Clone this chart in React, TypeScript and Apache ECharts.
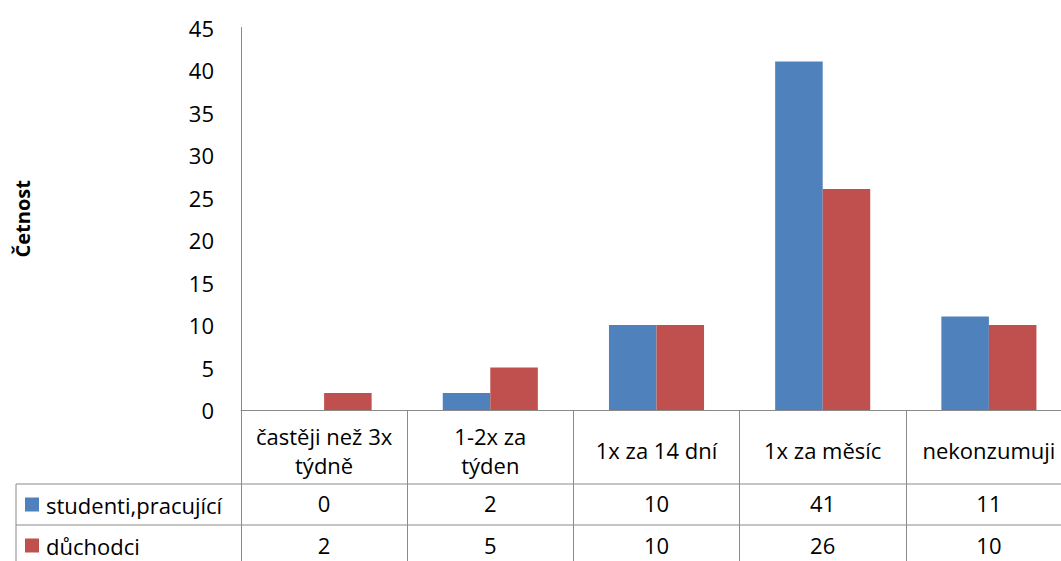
import React, { useEffect, useRef } from "react";
import * as echarts from "echarts";

const categories = ["častěji než 3x\ntýdně", "1-2x za\ntýden", "1x za 14 dní", "1x za měsíc", "nekonzumuji"];
const seriesNames = ["studenti,pracující", "důchodci"];
const studenti = [0, 2, 10, 41, 11];
const duchodci = [2, 5, 10, 26, 10];
const colors = ["#4F81BD", "#C0504D"];

const FONT = "'Open Sans', 'Noto Sans', sans-serif";
const FS = 22;
const LINE = "#8a8a8a";
// the plot runs a little past the right edge of the window
const CHART_W = 1072;
const CHART_H = 561;

export default function App() {
  const ref = useRef<HTMLDivElement>(null);
  useEffect(() => {
    if (!ref.current) return;
    const chart = echarts.init(ref.current, undefined, { renderer: "svg" });
    const gridLeft = 241;
    const gridTop = 27.5;
    const gridBottom = 151;
    const axisY = CHART_H - gridBottom;
    const row1 = 484;
    const row2 = 525;
    const valueAxis = (values: number[], margin: number) => ({
      type: "category",
      data: values.map(String),
      position: "bottom",
      gridIndex: 0,
      axisLine: { show: false },
      axisTick: { show: false },
      axisLabel: {
        interval: 0,
        margin,
        verticalAlign: "middle",
        fontFamily: FONT,
        fontSize: FS,
        color: "#000",
      },
    });
    chart.setOption({
      animation: false,
      backgroundColor: "#fff",
      textStyle: { fontFamily: FONT, fontSize: FS },
      grid: { left: gridLeft, top: gridTop, bottom: gridBottom, right: 0, outerBoundsMode: "none" },
      legend: {
        orient: "vertical",
        left: 25,
        top: 493,
        padding: 0,
        itemWidth: 14,
        itemHeight: 14,
        itemGap: 18,
        icon: "rect",
        selectedMode: false,
        textStyle: { fontFamily: FONT, fontSize: FS, color: "#000", lineHeight: 23, padding: [0, 0, 0, 2] },
        data: seriesNames,
      },
      xAxis: [
        {
          type: "category",
          data: categories,
          axisLine: { show: true, lineStyle: { color: LINE, width: 1 } },
          axisTick: { show: true, interval: 0, length: CHART_H - axisY, lineStyle: { color: LINE, width: 1 } },
          axisLabel: {
            interval: 0,
            margin: 40,
            verticalAlign: "middle",
            lineHeight: 29,
            fontFamily: FONT,
            fontSize: FS,
            color: "#000",
          },
        },
        valueAxis(studenti, 93),
        valueAxis(duchodci, 135),
      ],
      yAxis: {
        type: "value",
        min: 0,
        max: 45,
        interval: 5,
        name: "Četnost",
        nameLocation: "middle",
        nameGap: 209,
        nameRotate: 90,
        nameTextStyle: { fontFamily: FONT, fontSize: 20, fontWeight: "bold", color: "#000" },
        axisLine: { show: true, lineStyle: { color: LINE, width: 1 } },
        axisTick: { show: false },
        splitLine: { show: false },
        axisLabel: { margin: 27, fontFamily: FONT, fontSize: FS, color: "#000" },
      },
      series: [
        {
          name: seriesNames[0],
          type: "bar",
          data: studenti,
          itemStyle: { color: colors[0] },
          barGap: "0%",
          barCategoryGap: "42.8%",
        },
        {
          name: seriesNames[1],
          type: "bar",
          data: duchodci,
          itemStyle: { color: colors[1] },
          barGap: "0%",
          barCategoryGap: "42.8%",
        },
      ],
      graphic: [
        { type: "line", shape: { x1: 16, y1: row1, x2: CHART_W, y2: row1 }, style: { stroke: LINE, lineWidth: 1 } },
        { type: "line", shape: { x1: 16, y1: row2, x2: CHART_W, y2: row2 }, style: { stroke: LINE, lineWidth: 1 } },
        { type: "line", shape: { x1: 16, y1: row1, x2: 16, y2: CHART_H }, style: { stroke: LINE, lineWidth: 1 } },
      ],
    });
    return () => chart.dispose();
  }, []);
  return (
    <div
      ref={ref}
      style={{ position: "fixed", left: 0, top: 0, width: CHART_W, height: CHART_H, background: "#fff" }}
    />
  );
}
